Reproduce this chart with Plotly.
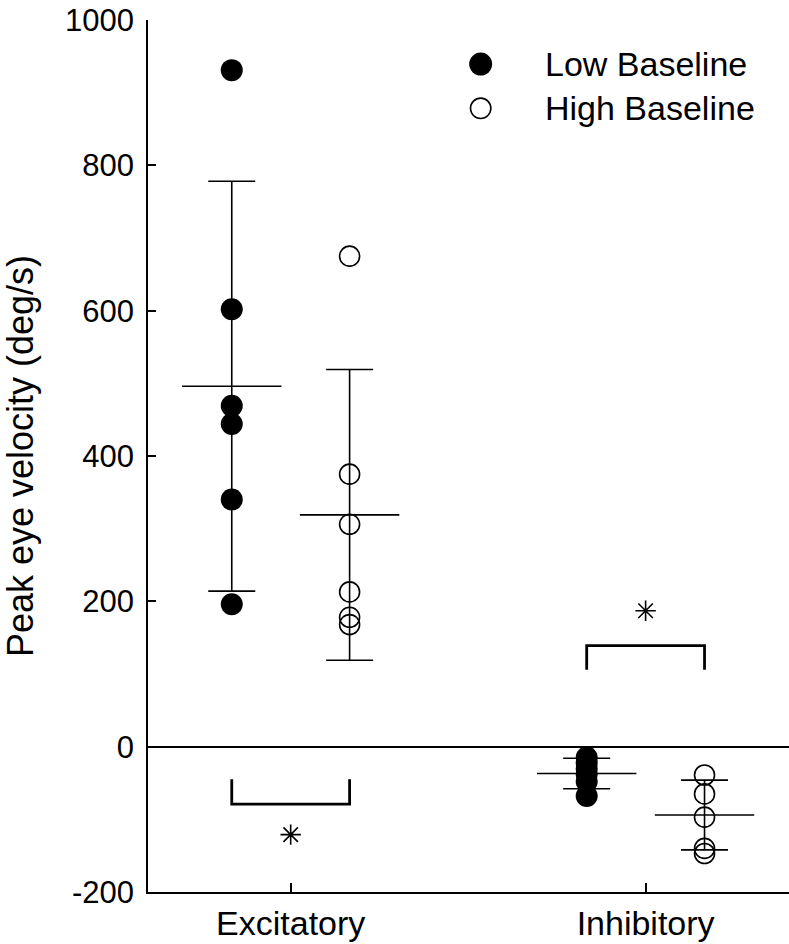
import plotly.graph_objects as go

# ---- data ----
categories = ["Excitatory", "Inhibitory"]
cat_pos = [1, 2]

low_excitatory = [931, 602, 469, 444, 340, 196]
high_excitatory = [675, 375, 306, 213, 178, 168]
low_inhibitory = [-15, -22, -30, -38, -48, -68]
high_inhibitory = [-39, -65, -97, -140, -147]

low_mean = [496, -37]
low_sd = [282, 21]
high_mean = [319, -94]
high_sd = [200, 48]

bracket_arm_end = [-45, 106]   # free end of the bracket arms
bracket_bar = [-79, 139]       # horizontal bar of bracket
asterisk_y = [-121, 187]

y_ticks = [-200, 0, 200, 400, 600, 800, 1000]

legend_labels = ["Low Baseline", "High Baseline"]

# ---- figure ----
OFF = 0.166
FONT = "Liberation Sans, Arial, Helvetica, sans-serif"
BLACK = "#000000"

fig = go.Figure()

low_x = [p - OFF for p in cat_pos]
high_x = [p + OFF for p in cat_pos]

# mean +/- SD (mean line as wide horizontal marker)
for xs, means, sds in [(low_x, low_mean, low_sd), (high_x, high_mean, high_sd)]:
    fig.add_trace(go.Scatter(
        x=xs, y=means, mode="markers",
        marker=dict(symbol="line-ew-open", size=71, color=BLACK,
                    line=dict(width=1.6, color=BLACK)),
        error_y=dict(type="data", array=sds, visible=True, color=BLACK,
                     thickness=1.6, width=23.5),
        showlegend=False, hoverinfo="skip"))

# individual points
groups = [
    (cat_pos[0] - OFF, low_excitatory, True),
    (cat_pos[0] + OFF, high_excitatory, False),
    (cat_pos[1] - OFF, low_inhibitory, True),
    (cat_pos[1] + OFF, high_inhibitory, False),
]
for xpos, vals, filled in groups:
    if filled:
        mk = dict(symbol="circle", size=22, color=BLACK,
                  line=dict(width=0, color=BLACK))
    else:
        mk = dict(symbol="circle-open", size=20, color=BLACK,
                  line=dict(width=1.6, color=BLACK))
    fig.add_trace(go.Scatter(
        x=[xpos] * len(vals), y=vals, mode="markers", marker=mk,
        showlegend=False))

# significance brackets
for p, arm, bar in zip(cat_pos, bracket_arm_end, bracket_bar):
    fig.add_trace(go.Scatter(
        x=[p - OFF, p - OFF, p + OFF, p + OFF],
        y=[arm, bar, bar, arm], mode="lines",
        line=dict(color=BLACK, width=2.8),
        showlegend=False, hoverinfo="skip"))

# asterisks
fig.add_trace(go.Scatter(
    x=cat_pos, y=asterisk_y, mode="markers",
    marker=dict(symbol="asterisk-open", size=17, color=BLACK,
                line=dict(width=1.6, color=BLACK)),
    showlegend=False, hoverinfo="skip"))

# custom legend (glyphs + text)
leg_x = 0.519
leg_y = [0.9495, 0.8987]
fig.add_shape(type="circle", xref="paper", yref="paper",
              xsizemode="pixel", ysizemode="pixel",
              xanchor=leg_x, yanchor=leg_y[0],
              x0=-11.5, x1=11.5, y0=-11.5, y1=11.5,
              fillcolor=BLACK, line=dict(width=0))
fig.add_shape(type="circle", xref="paper", yref="paper",
              xsizemode="pixel", ysizemode="pixel",
              xanchor=leg_x, yanchor=leg_y[1],
              x0=-10.2, x1=10.2, y0=-10.2, y1=10.2,
              fillcolor="rgba(0,0,0,0)", line=dict(width=1.6, color=BLACK))
for lbl, yy in zip(legend_labels, leg_y):
    fig.add_annotation(x=0.616, y=yy, xref="paper", yref="paper",
                       text=lbl, showarrow=False, xanchor="left",
                       yanchor="middle",
                       font=dict(family=FONT, size=34, color=BLACK))

fig.update_xaxes(
    range=[0.598, 2.404], tickvals=cat_pos, ticktext=categories,
    ticks="inside", ticklen=9, tickwidth=1.6, tickcolor=BLACK,
    showline=True, linecolor=BLACK, linewidth=1.6,
    showgrid=False, zeroline=False,
    tickfont=dict(family=FONT, size=34, color=BLACK),
    ticklabeloverflow="allow",
)
fig.update_yaxes(
    range=[-200, 1000], tickvals=y_ticks,
    ticktext=[str(v) for v in y_ticks],
    ticks="inside", ticklen=8, tickwidth=1.6, tickcolor=BLACK,
    showline=True, linecolor=BLACK, linewidth=1.6,
    showgrid=False, zeroline=True, zerolinecolor=BLACK, zerolinewidth=1.6,
    tickfont=dict(family=FONT, size=31, color=BLACK),
    ticklabelstandoff=6,
    ticklabeloverflow="allow",
    title=dict(text="Peak eye velocity (deg/s)", standoff=22,
               font=dict(family=FONT, size=36, color=BLACK)),
)

fig.update_layout(
    width=789, height=944,
    margin=dict(l=148, r=0, t=20, b=52, autoexpand=False),
    plot_bgcolor="white", paper_bgcolor="white",
    showlegend=False,
    font=dict(family=FONT, color=BLACK),
)

# remove the default 8px page margin so the figure fills the window exactly
fig.write_html(
    "out.html",
    config={"displayModeBar": False},
    post_script="document.body.style.margin='0';"
                "document.body.style.overflow='hidden';",
)
